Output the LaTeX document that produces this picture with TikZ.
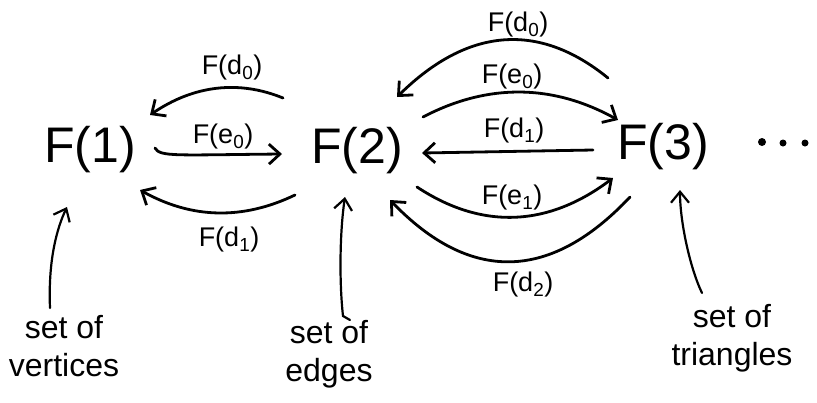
\documentclass[tikz,border=0pt]{standalone}
\usepackage{fontspec}
\setmainfont{Liberation Sans}
\usetikzlibrary{arrows.meta,calc}
\begin{document}
\begin{tikzpicture}[x=1pt,y=-1pt,
  big/.style={font=\fontsize{50}{56}\selectfont, inner sep=0pt},
  lab/.style={font=\fontsize{27}{30}\selectfont, inner sep=0pt},
  note/.style={font=\fontsize{32}{38}\selectfont, inner sep=0pt, align=center},
  arr/.style={line width=2.8pt, line cap=round, -{Straight Barb[length=11pt,width=20pt,line width=2.8pt]}},
  thin/.style={line width=2.2pt, line cap=round, -{Straight Barb[length=11pt,width=18pt,line width=2.2pt]}}]
\useasboundingbox (0,0) rectangle (817,402);

% main nodes
\node[big] (F1) at (90,150) {F(1)};
\node[big] (F2) at (357,151) {F(2)};
\node[big] (F3) at (663,147) {F(3)};

% dots
\fill (762,142) circle (4);
\fill (783,143) circle (3.5);
\fill (805,143) circle (3.5);

% F(1) <-> F(2)
\draw[arr] ($(F2)+(-74,-53)$) .. controls (239,80) and (194,85) .. ($(F1)+(60,-35)$);
\node[lab] (l1) at (232,68) {F(d\textsubscript{0})};
\draw[arr] ($(F1)+(65,-2)$) .. controls (160,157) and (175,155) .. ($(F2)+(-75,3)$);
\node[lab] (l2) at (223,137) {F(e\textsubscript{0})};
\draw[arr] ($(F2)+(-62,44)$) .. controls (243,220) and (192,219) .. ($(F1)+(50,40)$);
\node[lab] (l3) at (229,240) {F(d\textsubscript{1})};

% F(2) <-> F(3)
\draw[arr] ($(F3)+(-55,-69)$) .. controls (538,21) and (467,28) .. ($(F2)+(40,-54)$);
\node[lab] (l4) at (518,25) {F(d\textsubscript{0})};
\draw[arr] ($(F2)+(66,-34)$) .. controls (488,83) and (553,84) .. ($(F3)+(-45,-27)$);
\node[lab] (l5) at (512,77) {F(e\textsubscript{0})};
\draw[arr] ($(F3)+(-70,3)$) -- ($(F2)+(65,2)$);
\node[lab] (l6) at (514,131) {F(d\textsubscript{1})};
\draw[arr] ($(F2)+(60,36)$) .. controls (482,230) and (548,227) .. ($(F3)+(-50,31)$);
\node[lab] (l7) at (512,198) {F(e\textsubscript{1})};
\draw[arr] ($(F3)+(-33,50)$) .. controls (550,282) and (470,283) .. ($(F2)+(33,49)$);
\node[lab] (l8) at (523,285) {F(d\textsubscript{2})};

% annotations
\node[note] (V) at (64,346) {set of\\vertices};
\node[note] (E) at (329,354) {set of\\edges};
\node[note] (T) at (732,338) {set of\\triangles};

\draw[thin] ($(V)+(-14,-38)$) .. controls (48,260) and (57,228) .. ($(F1)+(-23,57)$);
\draw[thin] ($(E)+(21,-34)$) -- ($(E)+(14,-38)$) .. controls (339,280) and (340,230) .. ($(F2)+(-12,46)$);
\draw[thin] ($(T)+(-30,-45)$) .. controls (690,268) and (680,222) .. ($(F3)+(17,43)$);
\end{tikzpicture}
\end{document}
